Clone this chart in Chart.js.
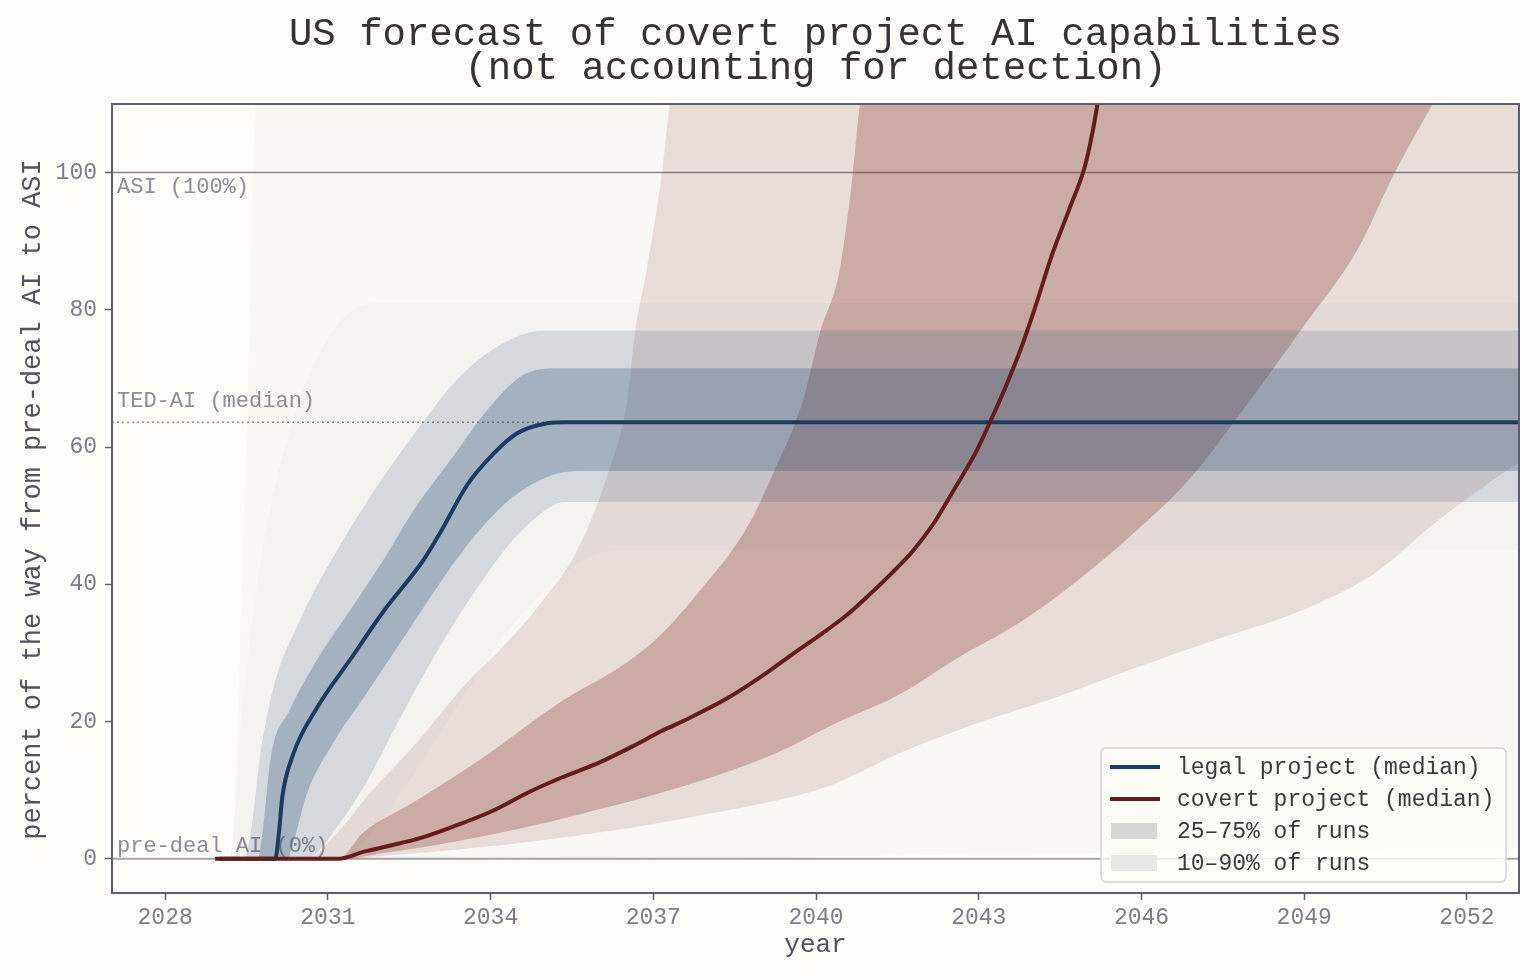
<!DOCTYPE html>
<html>
<head>
<meta charset="utf-8">
<script src="https://cdn.jsdelivr.net/npm/chart.js@4.4.1/dist/chart.umd.min.js"></script>
<style>
  html, body { margin: 0; padding: 0; background: #fdfcf8; }
  #wrap { width: 1540px; height: 980px; }
</style>
</head>
<body>
<div id="wrap"><canvas id="chart" width="1540" height="980"></canvas></div>
<script>
// values: [year, percent of the way from pre-deal AI to ASI]
var legalMedian = [[2029.0, 0], [2030.03, 0], [2030.1, 4], [2030.16, 9], [2030.36, 15.2], [2030.8, 22], [2031.41, 29],
    [2032.02, 36], [2032.76, 43.5], [2033.07, 47.5], [2033.57, 54.5], [2034.05, 59], [2034.49, 62], [2035.0, 63.4],
    [2035.4, 63.6], [2053.0, 63.6]];
var legalP75 = [[2028.9, 0], [2029.7, 0], [2029.81, 4.7], [2029.94, 14.4], [2030.3, 21.7], [2030.8, 29], [2031.41, 36.2],
    [2032.02, 43.5], [2032.6, 51], [2033.25, 58], [2034.0, 66], [2034.6, 70.5], [2035.2, 71.5], [2053.0, 71.5]];
var legalP25 = [[2028.9, 0], [2030.25, 0], [2030.36, 2.3], [2030.62, 9.6], [2031.1, 16.9], [2031.72, 24.2], [2032.33, 31.4],
    [2032.94, 38.7], [2033.6, 46], [2034.3, 52], [2035.0, 55.5], [2035.6, 56.5], [2053.0, 56.5]];
var legalP90 = [[2028.9, 0], [2029.45, 0], [2029.6, 5], [2029.75, 15], [2030.0, 25], [2030.5, 35], [2031.1, 44],
    [2031.8, 53], [2032.6, 62], [2033.4, 70], [2034.2, 75], [2035.0, 77], [2053.0, 77]];
var legalP10 = [[2028.9, 0], [2030.6, 0], [2031.2, 5], [2031.7, 11], [2032.3, 20], [2033.0, 30], [2033.8, 40],
    [2034.6, 48], [2035.4, 52], [2053.0, 52]];
var legalMax = [[2028.9, 0], [2029.2, 0], [2029.4, 20], [2029.8, 45], [2030.4, 65], [2031.2, 78], [2032.0, 81],
    [2053.0, 81]];
var legalMin = [[2028.9, 0], [2031.2, 0], [2032.2, 8], [2033.2, 20], [2034.4, 34], [2035.6, 43], [2036.4, 45],
    [2053.0, 45]];

var covertMedian = [[2028.92, 0], [2031.2, 0], [2031.65, 1.0], [2032.2, 2.0], [2032.7, 3.0], [2033.25, 4.5], [2033.99, 6.8],
    [2034.73, 9.8], [2035.3, 11.8], [2036.0, 14.0], [2036.6, 16.3], [2037.15, 18.6], [2037.64, 20.4], [2038.41, 23.6],
    [2039.0, 26.6], [2039.6, 30], [2040.07, 32.6], [2040.55, 35.4], [2041.0, 38.6], [2041.42, 41.8], [2041.8, 45],
    [2042.18, 49], [2042.56, 54], [2042.93, 59], [2043.2, 63.5], [2043.48, 68.5], [2043.76, 74], [2044.02, 79.9],
    [2044.35, 88], [2044.66, 94.5], [2044.96, 101], [2045.1, 106], [2045.2, 110.5], [2045.28, 114]];
var covertP75 = [[2028.9, 0], [2031.2, 0], [2031.65, 3.8], [2032.57, 8.2], [2033.8, 14.4], [2035.34, 23.1], [2036.4, 28],
    [2037.12, 32.5], [2037.8, 38.5], [2038.73, 48.3], [2039.2, 56], [2039.76, 66.8], [2040.07, 76.6], [2040.44, 86],
    [2040.68, 100], [2040.81, 110], [2040.9, 113], [2053.0, 113]];
var covertP25 = [[2028.9, 0], [2031.3, 0], [2032.0, 0.8], [2033.0, 2], [2034.0, 3.5], [2035.0, 5.2], [2036.0, 7.2],
    [2037.0, 9.3], [2038.2, 12.2], [2039.3, 15.5], [2040.3, 19.5], [2041.55, 24], [2042.64, 29.4], [2043.73, 34.3],
    [2044.83, 40.6], [2045.92, 47.9], [2046.87, 55.2], [2048.0, 66.8], [2049.0, 77.7], [2049.97, 88.6], [2050.67, 100],
    [2051.37, 110], [2051.6, 113], [2053.0, 113]];
var covertP90 = [[2028.9, 0], [2030.6, 0], [2031.2, 4], [2031.78, 9.6], [2032.57, 16.3], [2033.49, 25], [2034.3, 31.5],
    [2035.0, 38], [2035.6, 45], [2036.2, 57], [2036.52, 66.8], [2036.66, 76.6], [2036.88, 86],
    [2037.16, 100], [2037.3, 110], [2037.35, 113], [2053.0, 113]];
var covertP10 = [[2028.9, 0], [2031.3, 0], [2032.0, 0.4], [2034.0, 1.8], [2036.0, 3.8], [2038.0, 6.5], [2040.2, 10.5],
    [2041.55, 15.4], [2043.0, 19.8], [2044.46, 23.6], [2045.92, 27.9], [2047.37, 31.9], [2048.83, 35.8], [2050.3, 41.6],
    [2051.4, 48.9], [2052.48, 55.2], [2053.0, 58]];
var covertMax = [[2028.9, 0], [2029.2, 0], [2029.5, 60], [2029.7, 113], [2053.0, 113]];
var covertMin = [[2028.9, 0], [2031.3, 0], [2053.0, 1.5]];

var xTicks = [2028, 2031, 2034, 2037, 2040, 2043, 2046, 2049, 2052];
var yTicks = [0, 20, 40, 60, 80, 100];
var refLines = [
    { value: 100, label: 'ASI (100%)' },
    { value: 63.6, label: 'TED-AI (median)' },
    { value: 0, label: 'pre-deal AI (0%)' }
];
var titleLines = ['US forecast of covert project AI capabilities', '(not accounting for detection)'];
var legendItems = [
    { label: 'legal project (median)', kind: 'line', color: '#1f3a60' },
    { label: 'covert project (median)', kind: 'line', color: '#651c1c' },
    { label: '25\u201375% of runs', kind: 'box', color: '#d7d6d4' },
    { label: '10\u201390% of runs', kind: 'box', color: '#e9e8e6' }
];

var MONO = "'Liberation Mono', 'Courier New', monospace";
var AXIS = '#5a5e6e';

function pts(arr) {
    return arr.map(function (p) { return { x: p[0], y: p[1] }; });
}

function band(data, fillTarget, color, order) {
    return {
        data: pts(data),
        borderWidth: 0,
        pointRadius: 0,
        cubicInterpolationMode: 'monotone',
        fill: fillTarget === null ? false : { target: fillTarget },
        backgroundColor: color,
        order: order
    };
}

function medianLine(data, color, order) {
    return {
        data: pts(data),
        borderColor: color,
        borderWidth: 4,
        pointRadius: 0,
        cubicInterpolationMode: 'monotone',
        fill: false,
        order: order,
        borderJoinStyle: 'round'
    };
}

var datasets = [
    band(covertMin, null, 'rgba(0,0,0,0)', 20),
    band(covertMax, 0, 'rgba(150,115,110,0.026)', 19),
    band(covertP10, null, 'rgba(0,0,0,0)', 18),
    band(covertP90, 2, 'rgba(140,70,65,0.15)', 17),
    band(covertP25, null, 'rgba(0,0,0,0)', 16),
    band(covertP75, 4, 'rgba(140,70,65,0.33)', 15),
    band(legalMin, null, 'rgba(0,0,0,0)', 14),
    band(legalMax, 6, 'rgba(60,90,125,0.03)', 13),
    band(legalP10, null, 'rgba(0,0,0,0)', 12),
    band(legalP90, 8, 'rgba(40,75,115,0.15)', 11),
    band(legalP25, null, 'rgba(0,0,0,0)', 10),
    band(legalP75, 10, 'rgba(40,75,115,0.28)', 9),
    medianLine(legalMedian, '#1f3a60', 1),
    medianLine(covertMedian, '#651c1c', 0)
];

var decorPlugin = {
    id: 'decor',
    beforeDraw: function (chart) {
        var ctx = chart.ctx;
        ctx.save();
        ctx.fillStyle = '#fdfcf8';
        ctx.fillRect(0, 0, chart.width, chart.height);
        ctx.restore();
    },
    beforeDatasetsDraw: function (chart) {
        var ctx = chart.ctx, area = chart.chartArea, ys = chart.scales.y;
        ctx.save();
        ctx.beginPath();
        ctx.rect(area.left, area.top, area.right - area.left, area.bottom - area.top);
        ctx.clip();
        refLines.forEach(function (r) {
            var py = ys.getPixelForValue(r.value);
            ctx.beginPath();
            if (r.value === 63.6) {
                ctx.setLineDash([2, 3]);
                ctx.strokeStyle = '#8c8c96';
                ctx.lineWidth = 1.5;
            } else if (r.value === 0) {
                ctx.setLineDash([]);
                ctx.strokeStyle = '#a4a5ad';
                ctx.lineWidth = 2;
            } else {
                ctx.setLineDash([]);
                ctx.strokeStyle = '#858791';
                ctx.lineWidth = 1.5;
            }
            ctx.moveTo(area.left, py);
            ctx.lineTo(area.right, py);
            ctx.stroke();
        });
        ctx.setLineDash([]);
        ctx.font = '22px ' + MONO;
        ctx.fillStyle = '#8c8d97';
        ctx.textAlign = 'left';
        ctx.textBaseline = 'middle';
        refLines.forEach(function (r) {
            var py = ys.getPixelForValue(r.value);
            var off = r.value === 100 ? 15 : (r.value === 0 ? -13 : -21);
            ctx.fillText(r.label, area.left + 5, py + off);
        });
        ctx.restore();
    },
    afterDraw: function (chart) {
        var ctx = chart.ctx, area = chart.chartArea;
        ctx.save();
        // frame
        ctx.strokeStyle = AXIS;
        ctx.lineWidth = 2;
        ctx.strokeRect(area.left, area.top, area.right - area.left, area.bottom - area.top);

        // title
        var cx = (area.left + area.right) / 2;
        ctx.fillStyle = '#333333';
        ctx.font = '39px ' + MONO;
        ctx.textAlign = 'center';
        ctx.textBaseline = 'middle';
        ctx.fillText(titleLines[0], cx, 35);
        ctx.fillText(titleLines[1], cx, 69);

        // axis titles
        ctx.fillStyle = '#50525c';
        ctx.font = '26px ' + MONO;
        ctx.fillText('year', cx, 945);
        ctx.save();
        ctx.font = '27px ' + MONO;
        ctx.translate(33, (area.top + area.bottom) / 2 + 1);
        ctx.rotate(-Math.PI / 2);
        ctx.fillText('percent of the way from pre-deal AI to ASI', 0, 0);
        ctx.restore();

        // legend
        var lx = 1101, ly = 748, lw = 405, lh = 134, r = 5;
        ctx.beginPath();
        ctx.moveTo(lx + r, ly);
        ctx.arcTo(lx + lw, ly, lx + lw, ly + lh, r);
        ctx.arcTo(lx + lw, ly + lh, lx, ly + lh, r);
        ctx.arcTo(lx, ly + lh, lx, ly, r);
        ctx.arcTo(lx, ly, lx + lw, ly, r);
        ctx.closePath();
        ctx.fillStyle = 'rgba(253,252,248,0.82)';
        ctx.fill();
        ctx.strokeStyle = '#d4d4d6';
        ctx.lineWidth = 1.5;
        ctx.stroke();
        ctx.font = '23px ' + MONO;
        ctx.textAlign = 'left';
        legendItems.forEach(function (it, i) {
            var yy = ly + 19 + i * 32;
            if (it.kind === 'line') {
                ctx.strokeStyle = it.color;
                ctx.lineWidth = 4;
                ctx.beginPath();
                ctx.moveTo(lx + 9, yy);
                ctx.lineTo(lx + 59, yy);
                ctx.stroke();
            } else {
                ctx.fillStyle = it.color;
                ctx.fillRect(lx + 10, yy - 8, 46, 16);
            }
            ctx.fillStyle = '#3a3a3e';
            ctx.fillText(it.label, lx + 76, yy + 1);
        });
        ctx.restore();
    }
};

var chart = new Chart(document.getElementById('chart'), {
    type: 'line',
    data: { datasets: datasets },
    options: {
        responsive: false,
        animation: false,
        devicePixelRatio: 1,
        layout: { padding: { left: 0, right: 21, top: 104, bottom: 0 } },
        plugins: {
            legend: { display: false },
            title: { display: false },
            tooltip: { enabled: false },
            filler: { propagate: false }
        },
        scales: {
            x: {
                type: 'linear',
                min: 2027.02,
                max: 2052.96,
                afterFit: function (s) { s.height = 87; },
                afterBuildTicks: function (s) { s.ticks = xTicks.map(function (v) { return { value: v }; }); },
                grid: { drawOnChartArea: false, drawTicks: true, tickLength: 7, tickColor: AXIS, tickWidth: 1.5 },
                border: { display: true, color: AXIS, width: 2 },
                ticks: {
                    font: { family: MONO, size: 23 },
                    color: '#7b7d88',
                    padding: 4,
                    maxRotation: 0,
                    autoSkip: false,
                    callback: function (v) { return String(v); }
                }
            },
            y: {
                type: 'linear',
                min: -5,
                max: 110,
                afterFit: function (s) { s.width = 112; },
                afterBuildTicks: function (s) { s.ticks = yTicks.map(function (v) { return { value: v }; }); },
                grid: { drawOnChartArea: false, drawTicks: true, tickLength: 7, tickColor: AXIS, tickWidth: 1.5 },
                border: { display: true, color: AXIS, width: 2 },
                ticks: {
                    font: { family: MONO, size: 23 },
                    color: '#7b7d88',
                    padding: 8,
                    autoSkip: false,
                    callback: function (v) { return String(v); }
                }
            }
        }
    },
    plugins: [decorPlugin]
});
</script>
</body>
</html>
